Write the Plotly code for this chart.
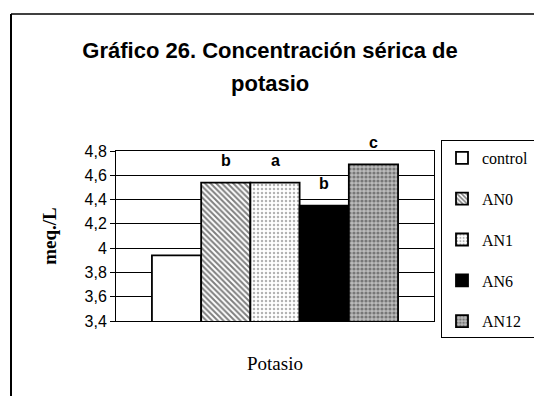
import plotly.graph_objects as go

# data
groups = ["control", "AN0", "AN1", "AN6", "AN12"]
values = [3.94, 4.54, 4.54, 4.35, 4.69]
letters = ["", "b", "a", "b", "c"]
y_ticks = [3.4, 3.6, 3.8, 4.0, 4.2, 4.4, 4.6, 4.8]
y_tick_labels = ["3,4", "3,6", "3,8", "4", "4,2", "4,4", "4,6", "4,8"]

fills = {
    "control": dict(color="white"),
    "AN0": dict(color="white", pattern=dict(shape="\\", fgcolor="black", bgcolor="white",
                                            size=4, solidity=0.5)),
    "AN1": dict(color="white", pattern=dict(shape=".", fgcolor="#666666", bgcolor="white",
                                            size=4, solidity=0.3)),
    "AN6": dict(color="black"),
    "AN12": dict(color="white", pattern=dict(shape=".", fgcolor="#333333", bgcolor="#bbbbbb",
                                             size=4, solidity=0.5)),
}

serif = "Liberation Serif"

fig = go.Figure()
for i, g in enumerate(groups):
    fig.add_trace(go.Bar(
        x=[g], y=[values[i]], name=g, legendgroup=g,
        marker=dict(line=dict(color="black", width=1.8), **fills[g]),
        width=1,
    ))
    if letters[i]:
        fig.add_annotation(x=g, y=values[i], text="<b>" + letters[i] + "</b>", showarrow=False,
                           yshift=22, font=dict(family="Arial", size=16, color="black"))

# the page adds an 8px body margin, so page pixels are shifted by OFF
OFF = 8
# plot area in page pixels: x 116-434, y 151-321
L, R, T, B = 116 - OFF, 542 - 434 + OFF, 151 - OFF, 396 - 321 + OFF
W, H = 542 - L - R, 396 - T - B

def px_x(p):
    return (p - OFF - L) / W

def px_y(p):
    return 1 - (p - OFF - T) / H

fig.update_layout(
    width=542, height=396,
    margin=dict(l=L, r=R, t=T, b=B, autoexpand=False),
    paper_bgcolor="white", plot_bgcolor="white",
    barmode="overlay",
    showlegend=True,
    title=dict(text="<b>Gráfico 26. Concentración sérica de</b>",
               x=(270 - OFF) / 542, xanchor="center", y=1 - (50 - OFF) / 396, yanchor="middle",
               xref="container", yref="container",
               font=dict(family="Arial", size=22, color="black")),
    legend=dict(x=px_x(441), xanchor="left", y=px_y(140), yanchor="top",
                bordercolor="black", borderwidth=1, bgcolor="white",
                font=dict(family=serif, size=16, color="black"),
                tracegroupgap=17, itemwidth=30),
    xaxis=dict(range=[-1.23, 5.23], showticklabels=False, ticks="",
               showline=True, linecolor="black", linewidth=1, mirror=True,
               showgrid=False, fixedrange=True,
               title=dict(text="Potasio", standoff=35,
                          font=dict(family=serif, size=19, color="black"))),
    yaxis=dict(range=[3.4, 4.8], tickvals=y_ticks, ticktext=y_tick_labels,
               showline=True, linecolor="black", linewidth=1, mirror=True,
               showgrid=True, gridcolor="black", gridwidth=1,
               ticks="outside", ticklen=5, tickcolor="black",
               tickfont=dict(family="Arial", size=16, color="black"),
               title=dict(text="<b>meq./L</b>", standoff=22,
                          font=dict(family=serif, size=19, color="black"))),
)

fig.add_annotation(xref="paper", yref="paper", x=px_x(270), y=px_y(83),
                   xanchor="center", yanchor="middle",
                   text="<b>potasio</b>", showarrow=False,
                   font=dict(family="Arial", size=22, color="black"))

# outer chart frame (left and top edges)
fig.add_shape(type="line", xref="paper", yref="paper",
              x0=px_x(11), x1=px_x(11), y0=px_y(14), y1=px_y(400),
              line=dict(color="black", width=2))
fig.add_shape(type="line", xref="paper", yref="paper",
              x0=px_x(11), x1=px_x(550), y0=px_y(14), y1=px_y(14),
              line=dict(color="black", width=1.5))

fig.write_html("out.html")
